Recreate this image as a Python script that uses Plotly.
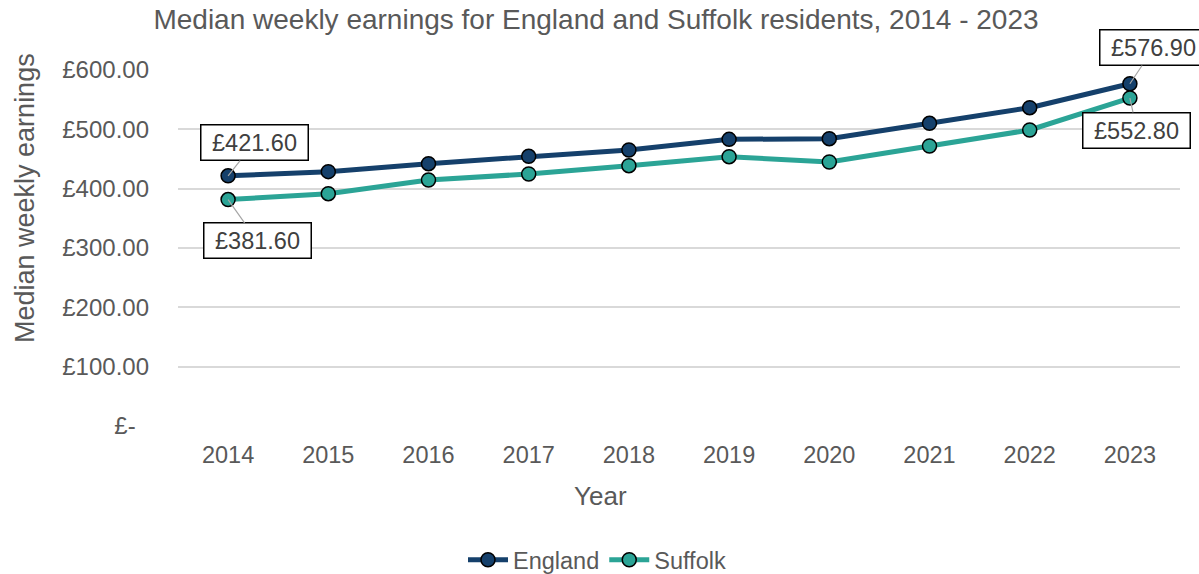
import plotly.graph_objects as go

# Median weekly earnings, residents
years = ["2014", "2015", "2016", "2017", "2018", "2019", "2020", "2021", "2022", "2023"]
england = [421.6, 428.7, 442.1, 454.5, 465.2, 483.1, 484.3, 510.1, 536.5, 576.9]
suffolk = [381.6, 391.6, 414.6, 424.7, 438.8, 453.9, 444.9, 471.9, 498.9, 552.8]

y_tickvals = [0, 100, 200, 300, 400, 500, 600]
y_ticktext = ["£-\u00a0\u00a0", "£100.00", "£200.00", "£300.00", "£400.00", "£500.00", "£600.00"]

ENGLAND_COLOUR = "#15406b"
SUFFOLK_COLOUR = "#2ba496"
TEXT_COLOUR = "#595959"
FONT = "Arial, Liberation Sans, sans-serif"

fig = go.Figure()
fig.add_trace(go.Scatter(
    x=years, y=england, name="England", mode="lines+markers",
    line=dict(color=ENGLAND_COLOUR, width=5),
    marker=dict(size=14, color=ENGLAND_COLOUR, line=dict(color="black", width=1.5)),
))
fig.add_trace(go.Scatter(
    x=years, y=suffolk, name="Suffolk", mode="lines+markers",
    line=dict(color=SUFFOLK_COLOUR, width=5),
    marker=dict(size=14, color=SUFFOLK_COLOUR, line=dict(color="black", width=1.5)),
))

# value callouts on the first and last years (x given as category index)
def callout(idx, values, ax, ay):
    y = values[idx]
    return dict(
        x=idx, y=y, xref="x", yref="y", text=f"£{y:.2f}",
        showarrow=True, arrowhead=0, arrowwidth=1.2, arrowcolor="#a6a6a6",
        ax=ax, ay=ay, bgcolor="white", bordercolor="black", borderwidth=1.5,
        borderpad=3, width=100, height=28,
        font=dict(family=FONT, size=23.5, color="#404040"),
    )

last = len(years) - 1
annotations = [
    callout(0, england, 26, -33),
    callout(0, suffolk, 29, 41),
    callout(last, england, 24, -36),
    callout(last, suffolk, 7, 32),
    dict(text="Median weekly earnings", textangle=-90, showarrow=False,
         xref="paper", yref="paper", x=(25 - 178) / 1002, y=(426 - 198) / 356,
         xanchor="center", yanchor="middle",
         font=dict(family=FONT, size=27, color=TEXT_COLOUR)),
    dict(text="Year", showarrow=False,
         xref="paper", yref="paper", x=(600 - 178) / 1002, y=(426 - 496) / 356,
         xanchor="center", yanchor="middle",
         font=dict(family=FONT, size=26, color=TEXT_COLOUR)),
]

fig.update_layout(
    width=1199, height=574,
    margin=dict(l=178, r=19, t=70, b=148, autoexpand=False),
    paper_bgcolor="white", plot_bgcolor="white",
    font=dict(family=FONT, color=TEXT_COLOUR),
    title=dict(
        text="Median weekly earnings for England and Suffolk residents, 2014 - 2023",
        x=596 / 1199, xanchor="center", xref="container",
        y=1 - 19 / 574, yanchor="middle", yref="container",
        font=dict(family=FONT, size=28, color=TEXT_COLOUR),
    ),
    xaxis=dict(
        type="category", range=[-0.5, 9.5], showgrid=False, showline=False,
        ticks="", ticklabelstandoff=12,
        tickfont=dict(family=FONT, size=23.5, color=TEXT_COLOUR),
    ),
    yaxis=dict(
        range=[0, 600], tickvals=y_tickvals, ticktext=y_ticktext,
        showgrid=True, gridcolor="#d9d9d9", gridwidth=1.5,
        zeroline=False, showline=False, ticks="", ticklabelstandoff=28,
        tickfont=dict(family=FONT, size=24, color=TEXT_COLOUR),
    ),
    legend=dict(
        orientation="h", xanchor="center", yanchor="middle",
        x=(597 - 178) / 1002, y=(426 - 560) / 356,
        font=dict(family=FONT, size=23.5, color=TEXT_COLOUR),
        itemwidth=40,
    ),
    annotations=annotations,
    showlegend=True,
)

fig.write_html("out.html")
